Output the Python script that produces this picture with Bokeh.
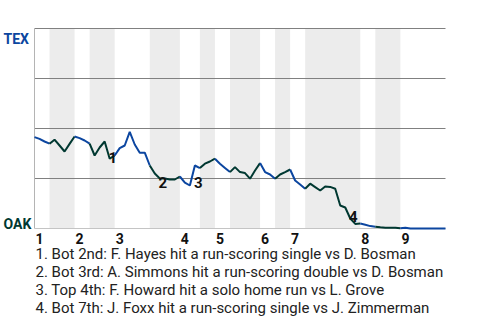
from bokeh.plotting import figure
from bokeh.models import Range1d, Label, LabelSet, ColumnDataSource
from bokeh.core.properties import value
from bokeh.embed import file_html
from bokeh.resources import INLINE

# ---------------- data ----------------
team_top = "TEX"      # away team (win probability = 1 at top)
team_bottom = "OAK"   # home team

plays = list(range(0, 83))
tex_win_prob = [
    .457, .448, .435, .424, .444, .415, .385, .423, .46, .452,
    .44, .424, .365, .405, .435, .349, .365, .402, .415, .483,
    .42, .379, .379, .315, .275, .25, .25, .245, .245, .26,
    .229, .215, .315, .302, .324, .335, .349, .324, .303, .282,
    .307, .282, .277, .249, .29, .327, .282, .27, .249, .27,
    .282, .295, .24, .22, .199, .224, .207, .19, .21, .208,
    .199, .115, .105, .05, .023, .025, .019, .012, .009, .006,
    .004, .004, .004, .001, .004, 0, 0, 0, 0, 0,
    0, 0, 0,
]

# play index at which each half inning starts (top 1st, bot 1st, top 2nd, ...)
half_inning_starts = [0, 3, 8, 11, 16, 23, 29, 33, 36, 39, 45, 48, 51, 54, 65, 68, 73]
game_end = 82
inning_labels = ["1", "2", "3", "4", "5", "6", "7", "8", "9"]

grid_levels = [0.25, 0.5, 0.75, 1.0]

event_numbers = ["1", "2", "3", "4"]
event_label_play = [15.6, 25.6, 32.7, 63.6]
event_label_prob = [0.357, 0.2325, 0.2325, 0.06]
event_notes = [
    "1. Bot 2nd: F. Hayes hit a run-scoring single vs D. Bosman",
    "2. Bot 3rd: A. Simmons hit a run-scoring double vs D. Bosman",
    "3. Top 4th: F. Howard hit a solo home run vs L. Grove",
    "4. Bot 7th: J. Foxx hit a run-scoring single vs J. Zimmerman",
]

# ---------------- style / layout ----------------
BLUE = "#0C46A0"
GREEN = "#003831"
BAND = "#ececec"
FONT = "Roboto"
W, H = 480, 320
PLOT_L, PLOT_R, PLOT_T, PLOT_B = 34, 445, 28, 228   # chart area in pixels
ppx = (PLOT_R - PLOT_L) / game_end                   # pixels per play
ppy = (PLOT_B - PLOT_T) / 1.0                        # pixels per unit prob

p = figure(width=W, height=H, output_backend="svg", toolbar_location=None,
           x_range=Range1d(-PLOT_L / ppx, game_end + (W - PLOT_R) / ppx),
           y_range=Range1d(-(H - PLOT_B) / ppy, 1 + PLOT_T / ppy),
           x_axis_location=None, y_axis_location=None,
           min_border_left=0, min_border_right=0,
           min_border_top=0, min_border_bottom=0)
p.outline_line_color = None
p.background_fill_color = "white"
p.border_fill_color = "white"
p.xgrid.visible = False
p.ygrid.visible = False

# shaded bottom halves
ends = half_inning_starts[1:] + [game_end]
band_left = [half_inning_starts[k] for k in range(1, len(half_inning_starts), 2)]
band_right = [ends[k] for k in range(1, len(half_inning_starts), 2)]
p.quad(left=band_left, right=band_right, bottom=0, top=1,
       fill_color=BAND, line_color=None)

# grid lines
p.segment(x0=[0] * len(grid_levels), x1=[game_end] * len(grid_levels),
          y0=grid_levels, y1=grid_levels, line_color="#808080", line_width=1)
# axis lines
p.segment(x0=[0], x1=[0], y0=[0], y1=[1], line_color="#b4b4b4", line_width=1)
p.segment(x0=[0], x1=[game_end], y0=[0], y1=[0], line_color="#c4c4c4", line_width=1)

# win probability line, coloured by batting team
xs, ys, cols = [], [], []
for k, s in enumerate(half_inning_starts):
    e = ends[k]
    xs.append(plays[s:e + 1])
    ys.append(tex_win_prob[s:e + 1])
    cols.append(BLUE if k % 2 == 0 else GREEN)
p.multi_line(xs=xs, ys=ys, line_color=cols, line_width=2)

# team labels
p.add_layout(Label(x=0, y=1, x_offset=-31, y_offset=-10, text=team_top,
                   text_font=FONT, text_font_style="bold", text_font_size="14px",
                   text_color=BLUE, text_align="left", text_baseline="alphabetic"))
p.add_layout(Label(x=0, y=0, x_offset=-31, y_offset=5, text=team_bottom,
                   text_font=FONT, text_font_style="bold", text_font_size="14px",
                   text_color=GREEN, text_align="left", text_baseline="alphabetic"))

# inning labels
inning_starts = half_inning_starts[::2]
for lab, s in zip(inning_labels, inning_starts):
    p.add_layout(Label(x=s, y=0, x_offset=1, y_offset=-9.5, text=lab,
                       text_font=FONT, text_font_style="bold", text_font_size="14px",
                       text_color="#111111", text_align="left", text_baseline="middle"))

# event markers
ev_src = ColumnDataSource(dict(x=event_label_play, y=event_label_prob, t=event_numbers))
p.add_layout(LabelSet(x="x", y="y", text="t", source=ev_src,
                      text_font=value(FONT), text_font_style="bold", text_font_size="15px",
                      text_color="#111111", text_align="center", text_baseline="middle"))

# event notes
for n, note in enumerate(event_notes):
    p.add_layout(Label(x=0, y=0, x_offset=1, y_offset=-25 - 18 * n, text=note,
                       text_font=FONT, text_font_size="15px", text_color="#222222",
                       text_align="left", text_baseline="middle"))

open("out.html", "w").write(file_html(p, INLINE))
